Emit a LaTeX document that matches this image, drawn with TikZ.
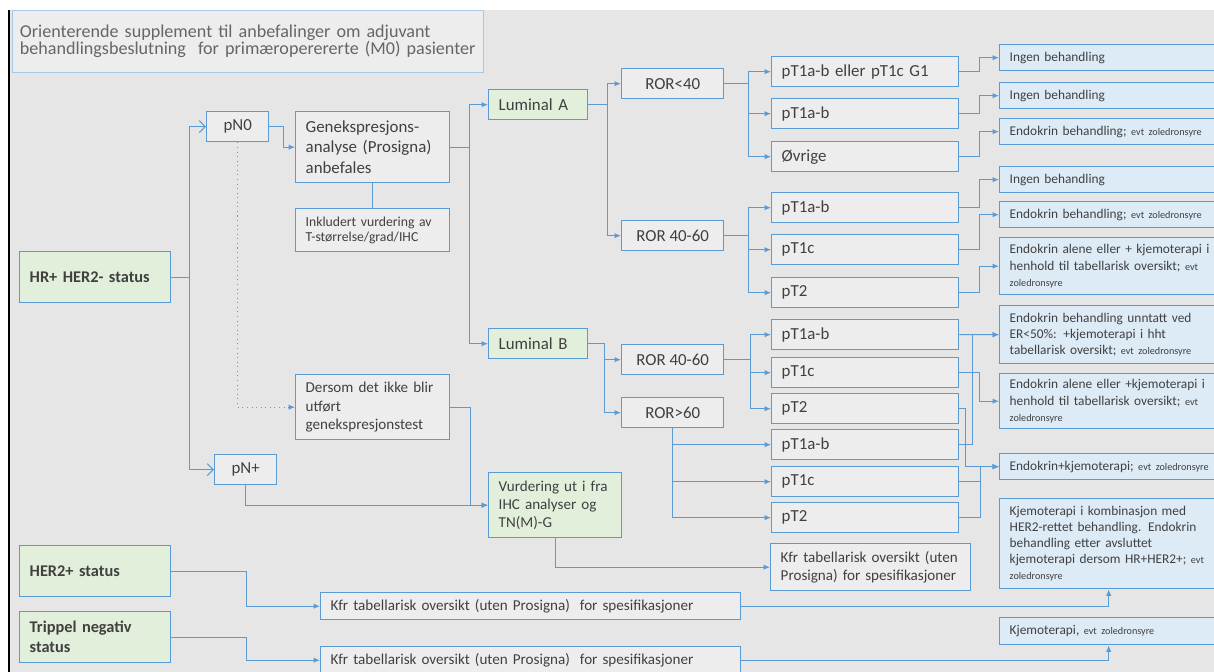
\documentclass[tikz,border=0pt]{standalone}
\usepackage{fontspec}
\setmainfont{Carlito}
\usetikzlibrary{arrows.meta}

\definecolor{bggray}{HTML}{E6E6E6}
\definecolor{boxgray}{HTML}{EDEDED}
\definecolor{boxgreen}{HTML}{E2EFDA}
\definecolor{boxblue}{HTML}{DDEBF7}
\definecolor{linkblue}{HTML}{5B9BD5}
\definecolor{titleblue}{HTML}{A8C8E8}
\definecolor{txtgray}{HTML}{404040}
\newcommand{\smalltxt}[1]{{\fontsize{5.8}{7}\selectfont #1}}
\setlength{\lineskiplimit}{-10pt}
\hyphenpenalty=10000
\exhyphenpenalty=10000

\begin{document}
\begin{tikzpicture}[x=0.02cm, y=-0.02cm,
  box/.style={draw=linkblue, line width=0.8pt, fill=boxgray, text=txtgray, anchor=north west, inner xsep=0.2cm, inner ysep=1pt, align=left},
  ptbox/.style={box, text width=3.34cm, minimum height=0.6cm, font=\fontsize{9.6}{11.4}\selectfont},
  rorbox/.style={box, align=center, minimum width=2.04cm, minimum height=0.6cm, font=\fontsize{9.6}{11.4}\selectfont},
  pnbox/.style={box, align=center, minimum width=1.24cm, minimum height=0.6cm, font=\fontsize{9.6}{11.4}\selectfont},
  lumbox/.style={box, fill=boxgreen, text width=1.58cm, minimum height=0.6cm, font=\fontsize{9.6}{11.4}\selectfont},
  statbox/.style={box, fill=boxgreen, text width=2.62cm, minimum height=1.02cm, font=\bfseries\fontsize{9.3}{11.4}\selectfont},
  midbox/.style={box, text width=2.68cm, minimum height=#1, font=\fontsize{8.6}{10.4}\selectfont},
  resbox/.style={box, fill=boxblue, text width=4.6cm, minimum height=#1, font=\fontsize{7.6}{9.2}\selectfont},
  connline/.style={draw=linkblue, line width=0.6pt},
  conn/.style={connline, -{Latex[length=1.3mm,width=1.1mm]}},
  connopen/.style={connline, -{Straight Barb[length=1.2mm,width=2.4mm]}}]

  \useasboundingbox (0,0) rectangle (1214,672);
  \fill[white] (0,0) rectangle (1214,672);
  \fill[bggray] (9,10) rectangle (1214,672);
  \draw[black, line width=0.8pt] (9,10) -- (9,672);

  % title
  \node[box, draw=titleblue, line width=0.5pt, fill=bggray!70!white, text=txtgray!80!white, text width=9.12cm, inner xsep=0.15cm, minimum height=1.24cm,
        font=\fontsize{10.3}{9.8}\selectfont] (title) at (12,10)
        {Orienterende supplement til anbefalinger om adjuvant\\behandlingsbeslutning\ \ for primæroperererte (M0) pasienter};

  % status boxes
  \node[statbox] (hrneg) at (19,251) {HR+ HER2- status};
  \node[statbox] (her2) at (19,545) {HER2+ status};
  \node[statbox] (tneg) at (19,611) {Trippel negativ\\status};

  % lymph node status
  \node[pnbox] (pn0) at (206,111) {pN0};
  \node[pnbox] (pnp) at (214,454) {pN+};
  \node[midbox=1.42cm, font=\fontsize{9.6}{11.4}\selectfont] (gen) at (295,111) {Genekspresjons-\\analyse (Prosigna)\\anbefales};
  \node[midbox=0.86cm, font=\fontsize{7.8}{8.8}\selectfont] (inkl) at (295,208) {Inkludert vurdering av\\T-størrelse/grad/IHC};
  \node[midbox=1.3cm] (ders) at (295,374) {Dersom det ikke blir\\utført\\genekspresjonstest};
  \node[midbox=1.3cm, fill=boxgreen, text width=2.26cm] (vurd) at (488,472) {Vurdering ut i fra\\IHC analyser og\\TN(M)-G};
  \node[midbox=0.94cm, text width=3.6cm] (kfr) at (770,543) {Kfr tabellarisk oversikt (uten\\Prosigna) for spesifikasjoner};
  \node[midbox=0.54cm, text width=8cm] (kfra) at (320,592) {Kfr tabellarisk oversikt (uten Prosigna)\ \ for spesifikasjoner};
  \node[midbox=0.54cm, text width=8cm] (kfrb) at (320,646) {Kfr tabellarisk oversikt (uten Prosigna)\ \ for spesifikasjoner};

  % luminal subtypes and ROR
  \node[lumbox] (luma) at (488,89) {Luminal A};
  \node[lumbox] (lumb) at (488,328) {Luminal B};
  \node[rorbox] (rA1) at (621,68) {ROR<40};
  \node[rorbox] (rA2) at (621,220) {ROR 40-60};
  \node[rorbox] (rB1) at (621,344) {ROR 40-60};
  \node[rorbox] (rB2) at (621,397) {ROR>60};

  % tumour size
  \node[ptbox] (a11) at (771,56) {pT1a-b eller pT1c G1};
  \node[ptbox] (a12) at (771,98) {pT1a-b};
  \node[ptbox] (a13) at (771,141) {Øvrige};
  \node[ptbox] (a21) at (771,192) {pT1a-b};
  \node[ptbox] (a22) at (771,234) {pT1c};
  \node[ptbox] (a23) at (771,277) {pT2};
  \node[ptbox] (b11) at (771,319) {pT1a-b};
  \node[ptbox] (b12) at (771,357) {pT1c};
  \node[ptbox] (b13) at (771,393) {pT2};
  \node[ptbox] (b21) at (771,429) {pT1a-b};
  \node[ptbox] (b22) at (771,466) {pT1c};
  \node[ptbox] (b23) at (771,502) {pT2};

  % treatment
  \node[resbox=0.52cm] (o1) at (999,44) {Ingen behandling};
  \node[resbox=0.52cm] (o2) at (999,82) {Ingen behandling};
  \node[resbox=0.52cm] (o3) at (999,118) {Endokrin behandling; \smalltxt{evt zoledronsyre}};
  \node[resbox=0.52cm] (o4) at (999,166) {Ingen behandling};
  \node[resbox=0.52cm] (o5) at (999,201) {Endokrin behandling; \smalltxt{evt zoledronsyre}};
  \node[resbox=1.14cm] (o6) at (999,237) {Endokrin alene eller + kjemoterapi i\\henhold til tabellarisk oversikt; \smalltxt{evt}\\\smalltxt{zoledronsyre}};
  \node[resbox=1.16cm] (o7) at (999,305) {Endokrin behandling unntatt ved\\ER<50\%: +kjemoterapi i hht\\tabellarisk oversikt; \smalltxt{evt zoledronsyre}};
  \node[resbox=1.1cm] (o8) at (999,373) {Endokrin alene eller +kjemoterapi i\\henhold til tabellarisk oversikt; \smalltxt{evt}\\\smalltxt{zoledronsyre}};
  \node[resbox=0.52cm] (o9) at (999,453) {Endokrin+kjemoterapi; \smalltxt{evt zoledronsyre}};
  \node[resbox=1.8cm] (o10) at (999,498) {Kjemoterapi i kombinasjon med\\HER2-rettet behandling. Endokrin\\behandling etter avsluttet\\kjemoterapi dersom HR+HER2+; \smalltxt{evt}\\\smalltxt{zoledronsyre}};
  \node[resbox=0.54cm] (o11) at (999,617) {Kjemoterapi, \smalltxt{evt zoledronsyre}};

  % connectors, left part
  \draw[connopen] (hrneg.east) -- ++(18,0) coordinate (jh) |- (pn0);
  \draw[connopen] (jh) |- (pnp);
  \draw[conn] (pn0.east) -- ++(14,0) |- (gen);
  \draw[conn, dotted] (pn0.south) |- (ders);
  \draw[connline] (gen.south) -- (inkl.north);
  \draw[conn] (gen.east) -- ++(19,0) coordinate (jg) |- (luma);
  \draw[conn] (jg) |- (lumb);
  \draw[conn] (ders.east) -- ++(20,0) |- (vurd);
  \draw[conn] (pnp.south) |- (vurd);
  \draw[conn] (vurd.south) |- (kfr);
  \draw[conn] (her2.east) -- ++(75,0) |- (kfra);
  \draw[conn] (tneg.east) -- ++(75,0) |- (kfrb);
  \draw[conn] (kfra.east) -| ([xshift=-0.32cm]o10.south);
  \draw[conn] (kfrb.east) -| ([xshift=-0.32cm]o11.south);

  % Luminal A
  \draw[conn] (luma.east) -- ++(19,0) coordinate (ja) |- (rA1);
  \draw[conn] (ja) |- (rA2);
  \draw[conn] (rA1.east) -- ++(24,0) coordinate (ja1) |- (a11);
  \draw[conn] (ja1) |- (a12);
  \draw[conn] (ja1) |- (a13);
  \draw[conn] (rA2.east) -- ++(24,0) coordinate (ja2) |- (a21);
  \draw[conn] (ja2) |- (a22);
  \draw[conn] (ja2) |- (a23);

  % Luminal B
  \draw[conn] (lumb.east) -- ++(16,0) coordinate (jb) |- (rB1);
  \draw[conn] (jb) |- (rB2);
  \draw[conn] (rB1.east) -- ++(26,0) coordinate (jb1) |- (b11);
  \draw[conn] (jb1) |- (b12);
  \draw[conn] (jb1) |- (b13);
  \draw[conn] (rB2.south) |- (b21);
  \draw[conn] (rB2.south) |- (b22);
  \draw[conn] (rB2.south) |- (b23);

  % to treatment
  \draw[conn] (a11.east) -- ++(20,0) |- (o1);
  \draw[conn] (a12.east) -- ++(20,0) |- (o2);
  \draw[conn] (a13.east) -- ++(20,0) |- (o3);
  \draw[conn] (a21.east) -- ++(20,0) |- (o4);
  \draw[conn] (a22.east) -- ++(20,0) |- (o5);
  \draw[conn] (a23.east) -- ++(20,0) |- (o6);
  \draw[conn] (b11.east) -- (o7.west);
  \draw[conn] (b21.east) -- ++(13,0) |- (o7);
  \draw[conn] (b12.east) -- ++(20,0) |- (o8);
  \draw[conn] (b13.east) -- ++(6,0) |- (o9);
  \draw[conn] (b22.east) -- ++(21,0) |- (o9);
  \draw[conn] (b23.east) -- ++(21,0) |- (o9);
\end{tikzpicture}
\end{document}
